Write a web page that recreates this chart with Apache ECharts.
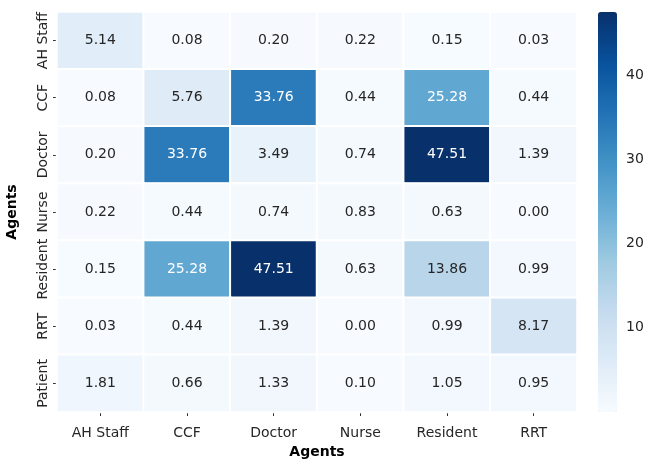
<!DOCTYPE html>
<html>
<head>
<meta charset="utf-8">
<script src="https://cdn.jsdelivr.net/npm/echarts@6/dist/echarts.min.js"></script>
<style>
  html, body { margin: 0; padding: 0; background: #fff; }
  #main { width: 649px; height: 459px; }
</style>
</head>
<body>
<div id="main"></div>
<script>
// columns (x) and rows (y) of the matrix
var colAgents = ['AH Staff', 'CCF', 'Doctor', 'Nurse', 'Resident', 'RRT'];
var rowAgents = ['AH Staff', 'CCF', 'Doctor', 'Nurse', 'Resident', 'RRT', 'Patient'];

// one array per row, values left to right
var rowAHStaff  = [5.14, 0.08, 0.20, 0.22, 0.15, 0.03];
var rowCCF      = [0.08, 5.76, 33.76, 0.44, 25.28, 0.44];
var rowDoctor   = [0.20, 33.76, 3.49, 0.74, 47.51, 1.39];
var rowNurse    = [0.22, 0.44, 0.74, 0.83, 0.63, 0.00];
var rowResident = [0.15, 25.28, 47.51, 0.63, 13.86, 0.99];
var rowRRT      = [0.03, 0.44, 1.39, 0.00, 0.99, 8.17];
var rowPatient  = [1.81, 0.66, 1.33, 0.10, 1.05, 0.95];

var colorbarTicks = [10, 20, 30, 40];

var rows = [rowAHStaff, rowCCF, rowDoctor, rowNurse, rowResident, rowRRT, rowPatient];
var vMin = 0, vMax = 47.51;

var data = [];
rows.forEach(function (r, yi) {
  r.forEach(function (v, xi) {
    data.push({
      value: [xi, yi, v],
      label: { color: v > 20 ? '#ffffff' : '#262626' } // light text on dark cells
    });
  });
});

var font = 'DejaVu Sans';
var fs = 14;
var chart = echarts.init(document.getElementById('main'));

var option = {
  backgroundColor: '#ffffff',
  textStyle: { fontFamily: font },
  grid: [
    { left: 57, top: 12, width: 520, height: 400, outerBoundsMode: 'none' },
    { left: 598, top: 12, width: 19, height: 400, outerBoundsMode: 'none' } // colorbar ticks
  ],
  xAxis: [{
    type: 'category',
    data: colAgents,
    gridIndex: 0,
    name: 'Agents',
    nameLocation: 'middle',
    nameGap: 33,
    nameTextStyle: { fontFamily: font, fontSize: fs, fontWeight: 'bold', color: '#000' },
    axisLine: { show: false },
    axisTick: { show: true, alignWithLabel: true, length: 4, lineStyle: { color: '#333' } },
    axisLabel: { fontFamily: font, fontSize: fs, color: '#262626', margin: 14, interval: 0 },
    splitLine: { show: false }
  }, {
    type: 'value',
    gridIndex: 1,
    show: false,
    min: 0, max: 1
  }],
  yAxis: [{
    type: 'category',
    data: rowAgents,
    inverse: true,
    gridIndex: 0,
    name: 'Agents',
    nameLocation: 'middle',
    nameGap: 38,
    nameRotate: 90,
    nameTextStyle: { fontFamily: font, fontSize: fs, fontWeight: 'bold', color: '#000' },
    axisLine: { show: false },
    axisTick: { show: true, alignWithLabel: true, length: 4, lineStyle: { color: '#333' } },
    axisLabel: { fontFamily: font, fontSize: fs, color: '#262626', rotate: 90, margin: 7, interval: 0 },
    splitLine: { show: false }
  }, {
    type: 'value',
    gridIndex: 1,
    position: 'right',
    min: vMin,
    max: vMax,
    interval: 10,
    axisLine: { show: false },
    axisTick: { show: true, length: 4, lineStyle: { color: '#333' } },
    axisLabel: {
      fontFamily: font, fontSize: fs, color: '#262626', margin: 9,
      showMinLabel: false, showMaxLabel: false,
      formatter: function (v) { return colorbarTicks.indexOf(v) >= 0 ? String(v) : ''; }
    },
    splitLine: { show: false }
  }],
  visualMap: {
    type: 'continuous',
    seriesIndex: 0,
    min: vMin,
    max: vMax,
    show: true,
    calculable: false,
    left: 598,
    top: 12,
    padding: 0,
    itemWidth: 19,
    itemHeight: 400,
    text: ['', ''],
    textGap: 0,
    inRange: {
      color: ['#f7fbff', '#deebf7', '#c6dbef', '#9ecae1', '#6baed6', '#4292c6', '#2171b5', '#08519c', '#08306b']
    }
  },
  series: [{
    type: 'heatmap',
    xAxisIndex: 0,
    yAxisIndex: 0,
    data: data,
    itemStyle: { borderColor: '#ffffff', borderWidth: 2 },
    label: {
      show: true,
      fontFamily: font,
      fontSize: fs,
      formatter: function (p) { return p.value[2].toFixed(2); }
    },
    emphasis: { disabled: true }
  }]
};

chart.setOption(option);
</script>
</body>
</html>
